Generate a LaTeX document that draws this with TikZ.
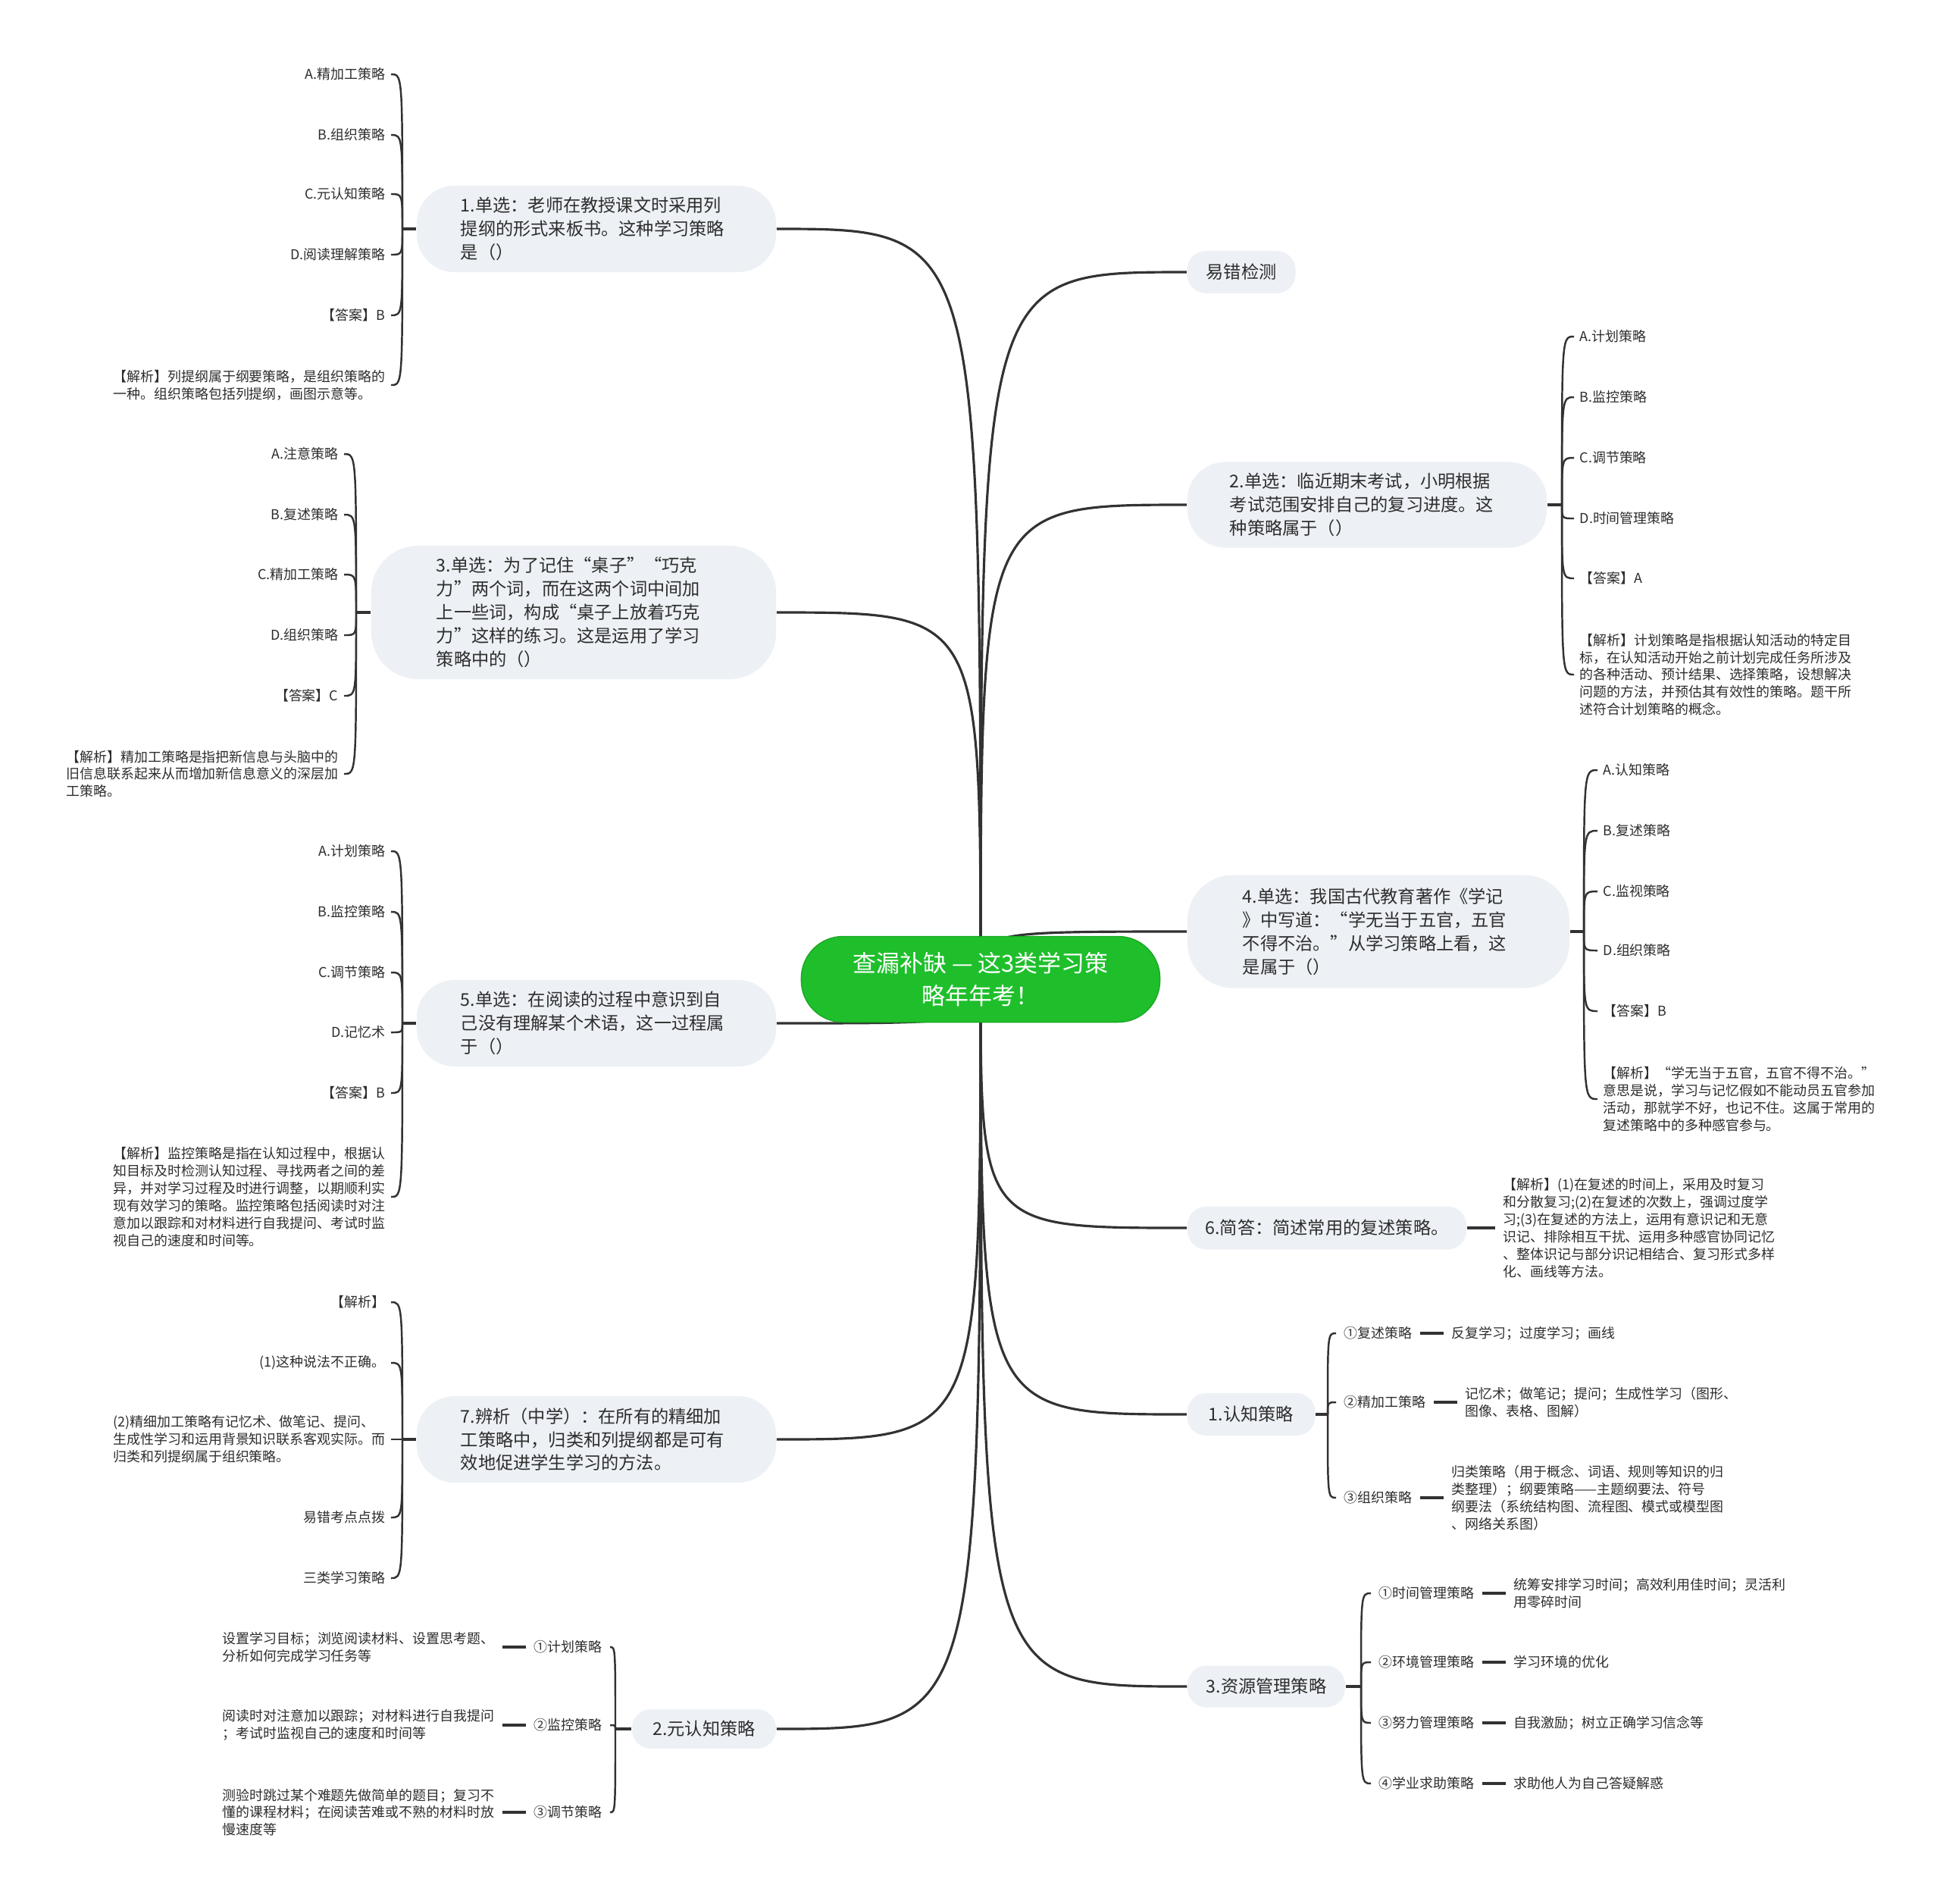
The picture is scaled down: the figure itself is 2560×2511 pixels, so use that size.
\documentclass[tikz,border=0pt]{standalone}
\usepackage{fontspec}
\setmainfont{Noto Sans CJK SC}
\usetikzlibrary{positioning,backgrounds}
\definecolor{rootgreen}{RGB}{31,191,44}
\definecolor{rootedge}{RGB}{24,168,36}
\definecolor{topicgray}{RGB}{237,241,245}
\definecolor{linegray}{RGB}{50,50,50}
\definecolor{inkgray}{RGB}{45,45,45}

\begin{document}
\begin{tikzpicture}[x=0.01cm,y=-0.01cm,node distance=0.31cm,
 link/.style={draw=linegray,line width=0.9pt},
 twig/.style={draw=linegray,line width=0.7pt},
 stub/.style={draw=linegray,line width=1.2pt},
 hub/.style={fill=rootgreen,draw=rootedge,text=white,rounded corners=0.55cm,align=center,inner sep=0pt,minimum width=4.73cm,minimum height=1.13cm,font=\fontsize{8.8}{12}\selectfont},
 topic/.style={fill=topicgray,text=inkgray,rounded corners=#1,align=left,inner sep=0pt,font=\fontsize{6.6}{8.8}\selectfont},
 topic/.default=0.25cm,
 leaf/.style={text=inkgray,align=left,inner xsep=0.07cm,inner ysep=0.02cm,font=\fontsize{5.1}{6.5}\selectfont},
 sub/.style={leaf,inner xsep=0.1cm}]
\useasboundingbox (0,0) rectangle (2560,2511);
\node[hub] (root) at (1294,1292) {查漏补缺 — 这3类学习策\\略年年考！};

\node[topic=0.5cm,minimum width=4.74cm,minimum height=1.14cm,text width=3.58cm] (q1) at (787,302) {1.单选：老师在教授课文时采用列\\提纲的形式来板书。这种学习策略\\是（）};
\node[topic=0.62cm,minimum width=5.34cm,minimum height=1.76cm,text width=3.62cm] (q3) at (757,808) {3.单选：为了记住“桌子”“巧克\\力”两个词，而在这两个词中间加\\上一些词，构成“桌子上放着巧克\\力”这样的练习。这是运用了学习\\策略中的（）};
\node[topic=0.5cm,minimum width=4.74cm,minimum height=1.14cm,text width=3.58cm] (q5) at (787,1350) {5.单选：在阅读的过程中意识到自\\己没有理解某个术语，这一过程属\\于（）};
\node[topic=0.5cm,minimum width=4.74cm,minimum height=1.14cm,text width=3.58cm] (q7) at (787,1899) {7.辨析（中学）：在所有的精细加\\工策略中，归类和列提纲都是可有\\效地促进学生学习的方法。};
\node[topic,minimum width=1.9cm,minimum height=0.52cm] (meta) at (929,2281) {2.元认知策略};
\node[topic,minimum width=1.43cm,minimum height=0.56cm] (yc) at (1638,359) {易错检测};
\node[topic=0.5cm,minimum width=4.74cm,minimum height=1.13cm,text width=3.62cm] (q2) at (1804,666) {2.单选：临近期末考试，小明根据\\考试范围安排自己的复习进度。这\\种策略属于（）};
\node[topic=0.6cm,minimum width=5.04cm,minimum height=1.49cm,text width=3.58cm] (q4) at (1819,1229) {4.单选：我国古代教育著作《学记\\》中写道：“学无当于五官，五官\\不得不治。”从学习策略上看，这\\是属于（）};
\node[topic,minimum width=3.68cm,minimum height=0.57cm] (q6) at (1751,1620) {6.简答：简述常用的复述策略。};
\node[topic,minimum width=1.69cm,minimum height=0.56cm] (cog) at (1651,1866) {1.认知策略};
\node[topic,minimum width=2.08cm,minimum height=0.55cm] (res) at (1671,2225) {3.资源管理策略};

\foreach \nm/\yy/\txt in {a/98/{A.精加工策略},b/178/{B.组织策略},c/256/{C.元认知策略},d/336/{D.阅读理解策略},e/416/{【答案】B},f/508/{【解析】列提纲属于纲要策略，是组织策略的\\一种。组织策略包括列提纲，画图示意等。}}
  \node[leaf,anchor=east] (q1\nm) at (516,\yy) {\txt};
\foreach \nm/\yy/\txt in {a/599/{A.注意策略},b/679/{B.复述策略},c/758/{C.精加工策略},d/838/{D.组织策略},e/918/{【答案】C},f/1021/{【解析】精加工策略是指把新信息与头脑中的\\旧信息联系起来从而增加新信息意义的深层加\\工策略。}}
  \node[leaf,anchor=east] (q3\nm) at (454,\yy) {\txt};
\foreach \nm/\yy/\txt in {a/1123/{A.计划策略},b/1203/{B.监控策略},c/1283/{C.调节策略},d/1362/{D.记忆术},e/1442/{【答案】B},f/1579/{【解析】监控策略是指在认知过程中，根据认\\知目标及时检测认知过程、寻找两者之间的差\\异，并对学习过程及时进行调整，以期顺利实\\现有效学习的策略。监控策略包括阅读时对注\\意加以跟踪和对材料进行自我提问、考试时监\\视自己的速度和时间等。}}
  \node[leaf,anchor=east] (q5\nm) at (516,\yy) {\txt};
\foreach \nm/\yy/\txt in {a/1718/{【解析】},b/1798/{(1)这种说法不正确。},c/1899/{(2)精细加工策略有记忆术、做笔记、提问、\\生成性学习和运用背景知识联系客观实际。而\\归类和列提纲属于组织策略。},d/2002/{易错考点点拨},e/2082/{三类学习策略}}
  \node[leaf,anchor=east] (q7\nm) at (516,\yy) {\txt};
\foreach \nm/\yy/\txt in {a/444/{A.计划策略},b/524/{B.监控策略},c/604/{C.调节策略},d/684/{D.时间管理策略},e/763/{【答案】A},f/890/{【解析】计划策略是指根据认知活动的特定目\\标，在认知活动开始之前计划完成任务所涉及\\的各种活动、预计结果、选择策略，设想解决\\问题的方法，并预估其有效性的策略。题干所\\述符合计划策略的概念。}}
  \node[leaf,anchor=west] (q2\nm) at (2077,\yy) {\txt};
\foreach \nm/\yy/\txt in {a/1016/{A.认知策略},b/1096/{B.复述策略},c/1176/{C.监视策略},d/1254/{D.组织策略},e/1334/{【答案】B},f/1450/{【解析】“学无当于五官，五官不得不治。”\\意思是说，学习与记忆假如不能动员五官参加\\活动，那就学不好，也记不住。这属于常用的\\复述策略中的多种感官参与。}}
  \node[leaf,anchor=west] (q4\nm) at (2108,\yy) {\txt};
\node[sub,right=0.37cm of q6] (q6d) {【解析】(1)在复述的时间上，采用及时复习\\和分散复习;(2)在复述的次数上，强调过度学\\习;(3)在复述的方法上，运用有意识记和无意\\识记、排除相互干扰、运用多种感官协同记忆\\、整体识记与部分识记相结合、复习形式多样\\化、画线等方法。};

\foreach \nm/\yy/\txt/\dtxt in {1/2173/{①计划策略}/{设置学习目标；浏览阅读材料、设置思考题、\\分析如何完成学习任务等},2/2276/{②监控策略}/{阅读时对注意加以跟踪；对材料进行自我提问\\；考试时监视自己的速度和时间等},3/2391/{③调节策略}/{测验时跳过某个难题先做简单的题目；复习不\\懂的课程材料；在阅读苦难或不熟的材料时放\\慢速度等}}
  {\node[sub,anchor=east] (meta\nm) at (805,\yy) {\txt}; \node[sub,left=of meta\nm] (metad\nm) {\dtxt};}
\foreach \nm/\yy/\txt/\dtxt in {1/1759/{①复述策略}/{反复学习；过度学习；画线},2/1850/{②精加工策略}/{记忆术；做笔记；提问；生成性学习（图形、\\图像、表格、图解）},3/1976/{③组织策略}/{归类策略（用于概念、词语、规则等知识的归\\类整理）；纲要策略——主题纲要法、符号\\纲要法（系统结构图、流程图、模式或模型图\\、网络关系图）}}
  {\node[sub,anchor=west] (cog\nm) at (1763,\yy) {\txt}; \node[sub,right=of cog\nm] (cogd\nm) {\dtxt};}
\foreach \nm/\yy/\txt/\dtxt in {1/2102/{①时间管理策略}/{统筹安排学习时间；高效利用佳时间；灵活利\\用零碎时间},2/2193/{②环境管理策略}/{学习环境的优化},3/2273/{③努力管理策略}/{自我激励；树立正确学习信念等},4/2353/{④学业求助策略}/{求助他人为自己答疑解惑}}
  {\node[sub,anchor=west] (res\nm) at (1809,\yy) {\txt}; \node[sub,right=of res\nm] (resd\nm) {\dtxt};}

\coordinate (q1j) at (531,302); \coordinate (q3j) at (470,808); \coordinate (q5j) at (531,1350); \coordinate (q7j) at (531,1899);
\coordinate (metaj) at (812,2281); \coordinate (q2j) at (2061,666); \coordinate (q4j) at (2090,1229);
\coordinate (cogj) at (1752,1866); \coordinate (resj) at (1796,2225);

\begin{scope}[on background layer]
\fill[white] (0,0) rectangle (2560,2511);
\foreach \b in {yc,q2,q4,q6,cog,res} \draw[link] (root.center) .. controls (root.center |- \b.west) and (root.center |- \b.west) .. (\b.west);
\foreach \b in {q1,q3,q5,q7,meta} \draw[link] (root.center) .. controls (root.center |- \b.east) and (root.center |- \b.east) .. (\b.east);
\draw[stub] (q1.west)--(q1j); \draw[stub] (q3.west)--(q3j); \draw[stub] (q5.west)--(q5j); \draw[stub] (q7.west)--(q7j); \draw[stub] (meta.west)--(metaj);
\draw[stub] (q2.east)--(q2j); \draw[stub] (q4.east)--(q4j); \draw[stub] (cog.east)--(cogj); \draw[stub] (res.east)--(resj); \draw[stub] (q6.east)--(q6d.west);
\foreach \nm in {a,...,f} \draw[twig] (q1j) .. controls (q1j |- q1\nm.east) and (q1j |- q1\nm.east) .. (q1\nm.east);
\foreach \nm in {a,...,f} \draw[twig] (q3j) .. controls (q3j |- q3\nm.east) and (q3j |- q3\nm.east) .. (q3\nm.east);
\foreach \nm in {a,...,f} \draw[twig] (q5j) .. controls (q5j |- q5\nm.east) and (q5j |- q5\nm.east) .. (q5\nm.east);
\foreach \nm in {a,...,e} \draw[twig] (q7j) .. controls (q7j |- q7\nm.east) and (q7j |- q7\nm.east) .. (q7\nm.east);
\foreach \nm in {a,...,f} \draw[twig] (q2j) .. controls (q2j |- q2\nm.west) and (q2j |- q2\nm.west) .. (q2\nm.west);
\foreach \nm in {a,...,f} \draw[twig] (q4j) .. controls (q4j |- q4\nm.west) and (q4j |- q4\nm.west) .. (q4\nm.west);
\foreach \nm in {1,2,3} {\draw[twig] (metaj) .. controls (metaj |- meta\nm.east) and (metaj |- meta\nm.east) .. (meta\nm.east); \draw[stub] (meta\nm.west)--(metad\nm.east);}
\foreach \nm in {1,2,3} {\draw[twig] (cogj) .. controls (cogj |- cog\nm.west) and (cogj |- cog\nm.west) .. (cog\nm.west); \draw[stub] (cog\nm.east)--(cogd\nm.west);}
\foreach \nm in {1,...,4} {\draw[twig] (resj) .. controls (resj |- res\nm.west) and (resj |- res\nm.west) .. (res\nm.west); \draw[stub] (res\nm.east)--(resd\nm.west);}
\end{scope}
\end{tikzpicture}
\end{document}
